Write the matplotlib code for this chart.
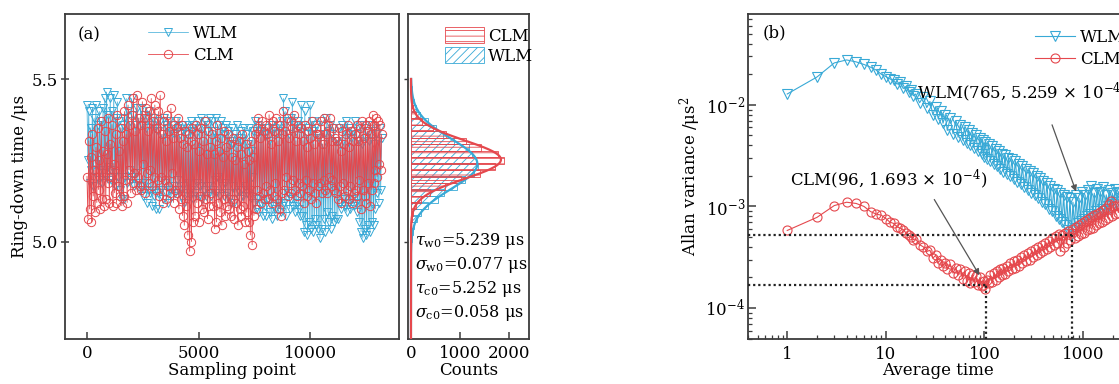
import numpy as np
import matplotlib
matplotlib.use('Agg')
import matplotlib.pyplot as plt
from matplotlib.ticker import LogLocator, NullFormatter, FixedLocator

plt.rcParams['font.family'] = ['DejaVu Serif']
plt.rcParams['mathtext.fontset'] = 'dejavuserif'
plt.rcParams['font.size'] = 12
plt.rcParams['hatch.linewidth'] = 0.6

BLUE = '#38a9d6'
RED = '#e5484d'
SPINE = '#3c3c3c'

# ---------------- data: panel (a) ring-down time series (μs) ----------------
sample_step = 40
clm_tau = [
    5.20, 5.07, 5.31, 5.10, 5.26, 5.06, 5.33, 5.14, 5.22, 5.09, 5.29, 5.12, 5.35, 5.16, 5.25, 5.10, 5.37, 5.13, 5.28, 5.11,
    5.34, 5.13, 5.27, 5.18, 5.38, 5.12, 5.30, 5.20, 5.36, 5.11, 5.24, 5.15, 5.33, 5.12, 5.39, 5.17, 5.28, 5.14, 5.35, 5.11,
    5.31, 5.14, 5.40, 5.19, 5.33, 5.12, 5.42, 5.22, 5.36, 5.15, 5.39, 5.18, 5.44, 5.21, 5.34, 5.16, 5.45, 5.20, 5.38, 5.17,
    5.36, 5.16, 5.43, 5.24, 5.38, 5.15, 5.41, 5.21, 5.34, 5.18, 5.40, 5.22, 5.44, 5.17, 5.37, 5.20, 5.42, 5.16, 5.35, 5.19,
    5.40, 5.14, 5.45, 5.20, 5.33, 5.12, 5.37, 5.19, 5.31, 5.13, 5.39, 5.17, 5.34, 5.15, 5.41, 5.21, 5.32, 5.12, 5.36, 5.16,
    5.35, 5.15, 5.38, 5.10, 5.32, 5.13, 5.36, 5.08, 5.30, 5.05, 5.34, 5.11, 5.29, 5.02, 5.33, 4.97, 5.31, 5.00, 5.35, 5.06,
    5.30, 5.08, 5.36, 5.12, 5.33, 5.06, 5.28, 5.14, 5.35, 5.10, 5.31, 5.09, 5.37, 5.13, 5.27, 5.07, 5.34, 5.11, 5.29, 5.15,
    5.33, 5.11, 5.27, 5.04, 5.31, 5.06, 5.36, 5.12, 5.28, 5.09, 5.32, 5.05, 5.26, 5.13, 5.34, 5.08, 5.29, 5.11, 5.33, 5.10,
    5.30, 5.08, 5.26, 5.13, 5.32, 5.07, 5.25, 5.12, 5.29, 5.05, 5.31, 5.10, 5.27, 5.08, 5.33, 5.11, 5.24, 5.06, 5.30, 5.09,
    5.28, 5.06, 5.25, 5.02, 5.31, 4.99, 5.26, 5.08, 5.33, 5.10, 5.35, 5.16, 5.38, 5.14, 5.32, 5.12, 5.37, 5.15, 5.34, 5.13,
    5.36, 5.17, 5.33, 5.13, 5.39, 5.16, 5.30, 5.12, 5.37, 5.14, 5.34, 5.18, 5.38, 5.13, 5.31, 5.10, 5.36, 5.08, 5.33, 5.15,
    5.40, 5.16, 5.34, 5.20, 5.38, 5.14, 5.32, 5.18, 5.37, 5.15, 5.35, 5.19, 5.39, 5.16, 5.31, 5.14, 5.36, 5.18, 5.33, 5.15,
    5.35, 5.17, 5.31, 5.12, 5.36, 5.19, 5.29, 5.14, 5.34, 5.16, 5.32, 5.13, 5.37, 5.18, 5.30, 5.15, 5.35, 5.12, 5.33, 5.17,
    5.33, 5.18, 5.37, 5.15, 5.30, 5.19, 5.38, 5.16, 5.33, 5.15, 5.36, 5.20, 5.38, 5.17, 5.31, 5.19, 5.35, 5.16, 5.32, 5.15,
    5.31, 5.13, 5.35, 5.17, 5.28, 5.12, 5.34, 5.18, 5.30, 5.14, 5.33, 5.16, 5.36, 5.13, 5.29, 5.17, 5.34, 5.12, 5.31, 5.15,
    5.33, 5.16, 5.36, 5.14, 5.31, 5.19, 5.35, 5.10, 5.37, 5.16, 5.32, 5.14, 5.36, 5.12, 5.34, 5.18, 5.37, 5.11, 5.33, 5.16,
    5.39, 5.18, 5.36, 5.22, 5.38, 5.20, 5.37, 5.24, 5.36, 5.22, 5.33,
]
wlm_tau = [
    5.42, 5.25, 5.40, 5.18, 5.35, 5.22, 5.41, 5.17, 5.38, 5.24, 5.42, 5.20, 5.36, 5.19, 5.40, 5.22, 5.37, 5.18, 5.41, 5.21,
    5.44, 5.20, 5.46, 5.23, 5.39, 5.19, 5.44, 5.22, 5.40, 5.18, 5.45, 5.21, 5.38, 5.17, 5.43, 5.20, 5.37, 5.16, 5.35, 5.13,
    5.36, 5.13, 5.38, 5.20, 5.44, 5.18, 5.40, 5.22, 5.37, 5.19, 5.44, 5.20, 5.39, 5.17, 5.36, 5.21, 5.41, 5.18, 5.38, 5.16,
    5.41, 5.17, 5.36, 5.14, 5.39, 5.18, 5.35, 5.12, 5.38, 5.16, 5.40, 5.15, 5.36, 5.11, 5.38, 5.14, 5.35, 5.10, 5.37, 5.15,
    5.34, 5.10, 5.37, 5.16, 5.33, 5.13, 5.38, 5.18, 5.36, 5.15, 5.35, 5.12, 5.37, 5.16, 5.34, 5.14, 5.36, 5.17, 5.33, 5.15,
    5.37, 5.19, 5.35, 5.16, 5.33, 5.14, 5.36, 5.17, 5.34, 5.12, 5.36, 5.15, 5.33, 5.18, 5.35, 5.14, 5.37, 5.16, 5.34, 5.13,
    5.36, 5.15, 5.33, 5.18, 5.37, 5.14, 5.35, 5.17, 5.38, 5.13, 5.35, 5.16, 5.37, 5.14, 5.34, 5.17, 5.36, 5.15, 5.38, 5.14,
    5.37, 5.16, 5.34, 5.19, 5.38, 5.15, 5.32, 5.20, 5.36, 5.14, 5.37, 5.17, 5.35, 5.14, 5.33, 5.18, 5.36, 5.15, 5.34, 5.13,
    5.31, 5.12, 5.35, 5.17, 5.30, 5.12, 5.33, 5.15, 5.36, 5.16, 5.32, 5.13, 5.34, 5.16, 5.31, 5.14, 5.35, 5.17, 5.33, 5.15,
    5.30, 5.14, 5.35, 5.16, 5.28, 5.20, 5.34, 5.12, 5.37, 5.10, 5.33, 5.13, 5.36, 5.09, 5.34, 5.12, 5.35, 5.08, 5.33, 5.11,
    5.33, 5.08, 5.35, 5.13, 5.31, 5.09, 5.36, 5.07, 5.34, 5.11, 5.35, 5.10, 5.33, 5.08, 5.36, 5.12, 5.34, 5.09, 5.37, 5.11,
    5.44, 5.12, 5.40, 5.08, 5.37, 5.15, 5.33, 5.10, 5.38, 5.13, 5.43, 5.11, 5.36, 5.09, 5.34, 5.12, 5.37, 5.10, 5.35, 5.08,
    5.42, 5.08, 5.36, 5.03, 5.40, 5.05, 5.33, 5.02, 5.35, 5.06, 5.42, 5.04, 5.37, 5.03, 5.34, 5.07, 5.36, 5.05, 5.33, 5.04,
    5.32, 5.01, 5.37, 5.04, 5.30, 5.07, 5.33, 5.03, 5.38, 5.09, 5.34, 5.06, 5.36, 5.04, 5.33, 5.08, 5.35, 5.06, 5.31, 5.07,
    5.31, 5.07, 5.35, 5.12, 5.30, 5.10, 5.36, 5.13, 5.34, 5.11, 5.37, 5.09, 5.33, 5.12, 5.35, 5.10, 5.32, 5.13, 5.34, 5.11,
    5.37, 5.12, 5.33, 5.09, 5.31, 5.06, 5.36, 5.03, 5.30, 5.01, 5.35, 5.04, 5.32, 5.02, 5.34, 5.05, 5.31, 5.03, 5.36, 5.06,
    5.34, 5.05, 5.30, 5.10, 5.33, 5.15, 5.31, 5.12, 5.35, 5.16, 5.32,
]

# ---------------- data: histogram ----------------
bin_centers = [4.97, 4.99, 5.01, 5.03, 5.05, 5.07, 5.09, 5.11, 5.13, 5.15,
               5.17, 5.19, 5.21, 5.23, 5.25, 5.27, 5.29, 5.31, 5.33, 5.35,
               5.37, 5.39, 5.41, 5.43, 5.45, 5.47, 5.49]
bin_width = 0.02
clm_counts = [0, 0, 1, 2, 5, 14, 35, 95, 205, 380, 690, 1010, 1400, 1700,
              1900, 1760, 1430, 1120, 720, 450, 220, 110, 45, 15, 6, 2, 0]
wlm_counts = [3, 8, 18, 40, 62, 130, 205, 350, 560, 680, 930, 1100, 1290,
              1370, 1330, 1250, 1180, 880, 650, 510, 345, 190, 110, 60, 30, 14, 6]
# Gaussian fit parameters (mean, sigma, peak counts)
clm_fit = (5.252, 0.058, 1830)
wlm_fit = (5.239, 0.077, 1350)

# ---------------- data: panel (b) Allan variance ----------------
avg_time = [1, 2, 3, 4, 5, 6, 7, 8, 9, 10, 11, 12, 13, 14, 15, 16, 17, 18, 19, 20,
            22, 24, 26, 28, 30, 32, 34, 36, 38, 40,
            42, 45, 48, 51, 54, 57, 60, 63, 66, 69, 72, 75, 78,
            82, 86, 90, 94, 96, 98, 102, 106, 110, 115, 120, 125, 130, 135, 140, 145, 150,
            156, 162, 168, 175, 182, 190, 198, 206, 215, 224, 233, 243, 253, 264, 275, 287, 300,
            312, 325, 338, 352, 366, 381, 397, 413, 430, 448, 466, 485, 505, 526, 548, 570, 590,
            612, 636, 660, 685, 710, 737, 765, 790, 820, 850, 880, 912, 945, 980, 1015, 1050, 1090, 1130, 1170,
            1210, 1255, 1300, 1345, 1395, 1445, 1495, 1550, 1605, 1660, 1720, 1780, 1845, 1910, 1980, 2050,
            2120, 2200, 2280, 2360]
wlm_avar_e3 = [12.8, 18.8, 25.9, 27.7, 26.5, 25.0, 23.5, 22.0, 20.0, 19.0, 18.0, 17.5, 16.0, 16.8, 14.5, 15.2, 13.5, 14.0, 12.3, 12.8,
               10.5, 12.0, 9.4, 10.8, 8.0, 9.6, 7.3, 8.8, 6.6, 8.0,
               5.6, 7.4, 5.2, 6.9, 4.8, 6.4, 4.5, 6.0, 4.2, 5.6, 4.0, 5.3, 3.8,
               5.0, 3.5, 4.7, 3.3, 4.5, 3.1, 4.3, 2.9, 4.1, 2.8, 3.9, 2.6, 3.7, 2.5, 3.5, 2.35, 3.3,
               2.2, 3.2, 2.1, 3.0, 2.0, 2.9, 1.85, 2.8, 1.75, 2.6, 1.65, 2.5, 1.55, 2.35, 1.45, 2.25, 1.35,
               2.15, 1.3, 2.0, 1.2, 1.9, 1.1, 1.8, 1.05, 1.7, 0.95, 1.6, 0.9, 1.5, 0.8, 1.45, 0.75, 1.35,
               0.7, 1.3, 0.65, 1.25, 0.58, 1.2, 0.53, 1.1, 0.62, 1.3, 0.68, 1.2, 0.72, 1.4, 0.75, 1.3, 0.8, 1.45, 0.85,
               1.6, 0.8, 1.35, 0.9, 1.5, 0.85, 1.4, 0.95, 1.55, 0.9, 1.3, 1.0, 1.45, 0.95, 1.35, 1.05,
               1.5, 1.1, 1.4, 1.2]
clm_avar_e4 = [5.8, 7.8, 10.2, 11.0, 10.7, 10.0, 8.9, 8.4, 8.2, 7.6, 7.0, 6.8, 6.3, 6.1, 5.9, 5.5, 5.2, 5.0, 4.7, 4.8,
               4.2, 4.0, 3.6, 3.7, 3.1, 3.3, 2.8, 3.0, 2.6, 2.8,
               2.4, 2.7, 2.2, 2.5, 2.1, 2.4, 1.95, 2.3, 1.85, 2.2, 1.75, 2.1, 1.8,
               2.05, 1.7, 2.0, 1.65, 1.69, 1.85, 1.55, 1.9, 1.75, 2.1, 1.8, 2.2, 1.9, 2.3, 2.0, 2.4, 2.1,
               2.5, 2.15, 2.6, 2.3, 2.75, 2.4, 2.9, 2.5, 3.0, 2.6, 3.2, 2.75, 3.3, 2.9, 3.5, 3.0, 3.6,
               3.2, 3.8, 3.3, 4.0, 3.5, 4.2, 3.6, 4.4, 3.8, 4.6, 4.0, 4.9, 4.2, 5.1, 4.4, 5.4, 3.6,
               5.2, 4.0, 5.5, 4.4, 5.7, 4.7, 5.5, 6.0, 4.9, 6.3, 5.1, 6.6, 5.3, 6.9, 5.5, 7.2, 5.8, 7.5, 6.0,
               7.8, 6.2, 8.2, 6.5, 8.5, 6.8, 8.8, 7.1, 9.2, 7.4, 9.6, 7.7, 10.5, 11.2, 8.0, 10.0,
               8.4, 10.3, 8.7, 10.0]
wlm_min = (765, 5.259e-4)
clm_min = (104, 1.693e-4)

# ---------------- figure ----------------
W, H = 1119, 384
fig = plt.figure(figsize=(W / 100, H / 100), dpi=100)


def box(l, t, r, b):
    return [l / W, 1 - b / H, (r - l) / W, (b - t) / H]


ax_a = fig.add_axes(box(65, 14, 399, 339))
ax_h = fig.add_axes(box(408, 14, 529, 339))
ax_b = fig.add_axes(box(748, 14, 1165, 339))

for ax in (ax_a, ax_h, ax_b):
    for s in ax.spines.values():
        s.set_color(SPINE)
        s.set_linewidth(1.3)

# ---- panel (a) ----
x_samp = np.arange(len(clm_tau)) * sample_step
ax_a.plot(x_samp, wlm_tau, color=BLUE, lw=0.5, marker='v', ms=6,
          mfc='none', mec=BLUE, mew=0.7, label='WLM')
ax_a.plot(x_samp, clm_tau, color=RED, lw=0.6, marker='o', ms=6,
          mfc='none', mec=RED, mew=0.7, label='CLM')
ax_a.set_xlim(-985, 13980)
ax_a.set_ylim(4.70, 5.70)
ax_a.set_xticks([0, 5000, 10000])
ax_a.set_yticks([5.0, 5.5])
ax_a.tick_params(axis='x', direction='in', length=5, width=1.1, pad=4, color=SPINE)
ax_a.tick_params(axis='y', direction='inout', length=6, width=1.1, pad=2, color=SPINE)
ax_a.set_xlabel('Sampling point')
ax_a.xaxis.set_label_coords(0.5, -0.07)
ax_a.set_ylabel('Ring-down time /μs')
ax_a.yaxis.set_label_coords(-0.11, 0.5)
ax_a.text(78 / W, 1 - 35 / H, '(a)', transform=fig.transFigure, ha='left', va='center')
ax_a.legend(loc='upper left', bbox_to_anchor=(140 / W, 1 - 17 / H),
            bbox_transform=fig.transFigure, frameon=False, borderpad=0,
            handlelength=2.4, handletextpad=0.3, labelspacing=0.25, numpoints=1)

# ---- histogram ----
ax_h.barh(bin_centers, wlm_counts, height=bin_width, color='none',
          edgecolor=BLUE, hatch='////', lw=0.6, label='WLM', zorder=2)
ax_h.barh(bin_centers, clm_counts, height=bin_width, color='none',
          edgecolor=RED, hatch='---', lw=0.6, label='CLM', zorder=3)
yy = np.linspace(4.70, 5.50, 400)
for (mu, sig, amp), c in ((wlm_fit, BLUE), (clm_fit, RED)):
    ax_h.plot(amp * np.exp(-(yy - mu) ** 2 / (2 * sig ** 2)), yy, color=c, lw=1.6, zorder=4)
ax_h.set_xlim(-60, 2400)
ax_h.set_ylim(4.70, 5.70)
ax_h.set_xticks([0, 1000, 2000])
ax_h.set_yticks([5.0, 5.5])
ax_h.tick_params(axis='y', labelleft=False, direction='out', length=3, width=1.0, color=SPINE)
ax_h.tick_params(axis='x', direction='in', length=5, width=1.1, pad=4, color=SPINE)
ax_h.set_xlabel('Counts')
ax_h.xaxis.set_label_coords(0.5, -0.07)
hh, ll = ax_h.get_legend_handles_labels()
ax_h.legend([hh[1], hh[0]], [ll[1], ll[0]], loc='upper left',
            bbox_to_anchor=(437 / W, 1 - 19 / H), bbox_transform=fig.transFigure,
            frameon=False, borderpad=0, handlelength=2.3, handleheight=1.1,
            handletextpad=0.25, labelspacing=0.12)
stats = [r'$\tau_{\mathrm{w0}}$=5.239 μs', r'$\sigma_{\mathrm{w0}}$=0.077 μs',
         r'$\tau_{\mathrm{c0}}$=5.252 μs', r'$\sigma_{\mathrm{c0}}$=0.058 μs']
for i, s in enumerate(stats):
    fig.text(415 / W, 1 - (241 + 24 * i) / H, s, ha='left', va='center', fontsize=11.5)

# ---- panel (b) ----
ax_b.set_xscale('log')
ax_b.set_yscale('log')
ax_b.plot(avg_time, np.array(wlm_avar_e3) * 1e-3, color=BLUE, lw=0.8, marker='v',
          ms=6.5, mfc='none', mec=BLUE, mew=0.8, label='WLM')
ax_b.plot(avg_time, np.array(clm_avar_e4) * 1e-4, color=RED, lw=0.8, marker='o',
          ms=6.5, mfc='none', mec=RED, mew=0.8, label='CLM')
ax_b.set_xlim(0.40, 6780)
ax_b.set_ylim(4.95e-5, 0.0785)
for (tx, ty) in (wlm_min, clm_min):
    ax_b.plot([0.40, tx], [ty, ty], ls=(0, (1, 1.3)), color='#222222', lw=1.6, zorder=5)
    ax_b.plot([tx, tx], [4.95e-5, ty], ls=(0, (1, 1.3)), color='#222222', lw=1.6, zorder=5)
ax_b.xaxis.set_major_locator(FixedLocator([1, 10, 100, 1000]))
ax_b.xaxis.set_minor_locator(LogLocator(base=10, subs=np.arange(2, 10)))
ax_b.xaxis.set_minor_formatter(NullFormatter())
ax_b.yaxis.set_major_locator(FixedLocator([1e-4, 1e-3, 1e-2]))
ax_b.yaxis.set_minor_locator(LogLocator(base=10, subs=np.arange(2, 10)))
ax_b.yaxis.set_minor_formatter(NullFormatter())
ax_b.set_xticklabels(['1', '10', '100', '1000'])
ax_b.tick_params(which='major', direction='in', length=6, width=1.1, color=SPINE)
ax_b.tick_params(which='minor', direction='in', length=3, width=0.9, color=SPINE)
ax_b.tick_params(axis='x', pad=5)
ax_b.tick_params(axis='y', pad=2)
ax_b.set_xlabel('Average time')
ax_b.xaxis.set_label_coords((938 - 748) / (1165 - 748), -0.07)
ax_b.set_ylabel('Allan variance /μs$^2$')
ax_b.yaxis.set_label_coords(-0.108, 0.5)
ax_b.text(763 / W, 1 - 33 / H, '(b)', transform=fig.transFigure, ha='left', va='center')
ax_b.legend(loc='upper left', bbox_to_anchor=(1027 / W, 1 - 21 / H),
            bbox_transform=fig.transFigure, frameon=False, borderpad=0,
            handlelength=2.4, handletextpad=0.3, labelspacing=0.25, numpoints=1)
ax_b.annotate('', xy=(850, 1.40e-3), xytext=(485, 6.36e-3),
              arrowprops=dict(arrowstyle='-|>', color='#555555', lw=0.9,
                              mutation_scale=9, shrinkA=0, shrinkB=0), zorder=6)
ax_b.annotate('', xy=(89, 2.1e-4), xytext=(31, 1.17e-3),
              arrowprops=dict(arrowstyle='-|>', color='#555555', lw=0.9,
                              mutation_scale=9, shrinkA=0, shrinkB=0), zorder=6)
ax_b.text(20.9, 1.343e-2, 'WLM(765, 5.259 × 10$^{-4}$)', ha='left', va='center')
ax_b.text(1.07, 1.84e-3, 'CLM(96, 1.693 × 10$^{-4}$)', ha='left', va='center')

fig.savefig('out.png', dpi=100)
